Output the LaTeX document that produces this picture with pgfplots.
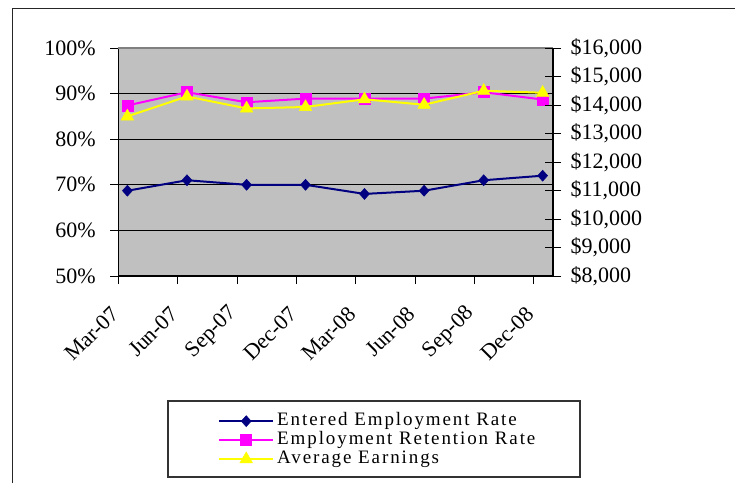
\documentclass[border=0pt]{standalone}
\usepackage{fontspec}
\setmainfont{Liberation Serif}
\newfontfamily\legendfont[LetterSpace=10]{Liberation Serif}
\usepackage{pgfplots}
\pgfplotsset{compat=1.18}
\definecolor{plotgray}{HTML}{C0C0C0}
\definecolor{navyc}{HTML}{000080}
\definecolor{magc}{HTML}{FF00FF}
\definecolor{yelc}{HTML}{FFFF00}
\begin{document}
\begin{tikzpicture}
\path[use as bounding box, fill=white] (0pt,0pt) rectangle (735pt,483pt);
\begin{axis}[
  at={(118.3pt,207pt)}, anchor=south west,
  width=434.7pt, height=228pt, scale only axis,
  xmin=0, xmax=671, ymin=50, ymax=100,
  axis x line*=bottom, axis y line*=left,
  axis line style={black, line width=1.2pt, -},
  axis background/.style={fill=plotgray},
  xtick={0,92,184,275,366,458,550,641},
  xticklabels={Mar-07,Jun-07,Sep-07,Dec-07,Mar-08,Jun-08,Sep-08,Dec-08},
  ytick={50,60,70,80,90,100},
  yticklabels={50\%,60\%,70\%,80\%,90\%,100\%},
  ymajorgrids, grid style={black, line width=1pt},
  tick align=outside, major tick length=8pt,
  tick style={black, line width=1pt},
  ticklabel style={font=\fontsize{22}{26}\selectfont},
  xticklabel style={yshift=-24pt, xshift=-1pt, rotate=45, anchor=east},
  yticklabel style={xshift=-11pt},
  clip=false,
  legend cell align=left,
  legend image code/.code={\draw[mark repeat=2,mark phase=2] plot coordinates {(0pt,0pt) (27pt,0pt) (54pt,0pt)};},
  legend style={at={(0.2294,-0.72)}, anchor=west, draw=none, fill=none, inner sep=0pt, row sep=0pt,
    nodes={inner xsep=3pt, inner ysep=1pt, text height=13pt, text depth=4pt, font=\legendfont\fontsize{19}{21}\selectfont}},
]
\draw[gray, line width=1.2pt] (axis cs:0,100) -- (axis cs:671,100);
\addplot[navyc, line width=2pt, mark=diamond*, mark size=5.5pt, mark options={solid, fill=navyc, draw=navyc, line width=0.5pt, xscale=1.2}]
  coordinates {(14,68.7) (106,71) (198,70) (289,70) (380,68) (472,68.7) (564,71) (655,72)};
\addlegendentry{Entered Employment Rate}
\addplot[magc, line width=2pt, mark=square*, mark size=5.5pt, mark options={solid, fill=magc, draw=magc, line width=0.5pt}]
  coordinates {(14,87.4) (106,90.3) (198,88.1) (289,88.9) (380,88.9) (472,88.9) (564,90.3) (655,88.7)};
\addlegendentry{Employment Retention Rate}
\addlegendimage{yelc, line width=2pt, mark=triangle*, mark size=7.2pt, mark options={solid, fill=yelc, draw=yelc, line width=0.5pt}}
\addlegendentry{Average Earnings}
\end{axis}
\begin{axis}[
  at={(118.3pt,207pt)}, anchor=south west,
  width=434.7pt, height=228pt, scale only axis,
  xmin=0, xmax=671, ymin=8000, ymax=16000,
  axis x line=none, axis y line*=right,
  axis line style={black, line width=1.2pt, -},
  scaled y ticks=false,
  ytick={8000,9000,10000,11000,12000,13000,14000,15000,16000},
  yticklabels={{\$8,000},{\$9,000},{\$10,000},{\$11,000},{\$12,000},{\$13,000},{\$14,000},{\$15,000},{\$16,000}},
  tick align=center, major tick length=16pt,
  tick style={black, line width=1pt},
  ticklabel style={font=\fontsize{22}{26}\selectfont},
  yticklabel style={xshift=6pt},
  clip=false,
]
\addplot[yelc, line width=2pt, mark=triangle*, mark size=7.2pt, mark options={solid, fill=yelc, draw=yelc, line width=0.5pt}]
  coordinates {(14,13600) (106,14300) (198,13880) (289,13930) (380,14200) (472,14010) (564,14500) (655,14430)};
\end{axis}
\draw[line width=1.2pt, black!80] (168pt,6pt) rectangle (580pt,82pt);
\draw[line width=1.3pt, black!85] (12.7pt,0pt) -- (12.7pt,474.3pt) -- (735pt,474.3pt);
\end{tikzpicture}
\end{document}
